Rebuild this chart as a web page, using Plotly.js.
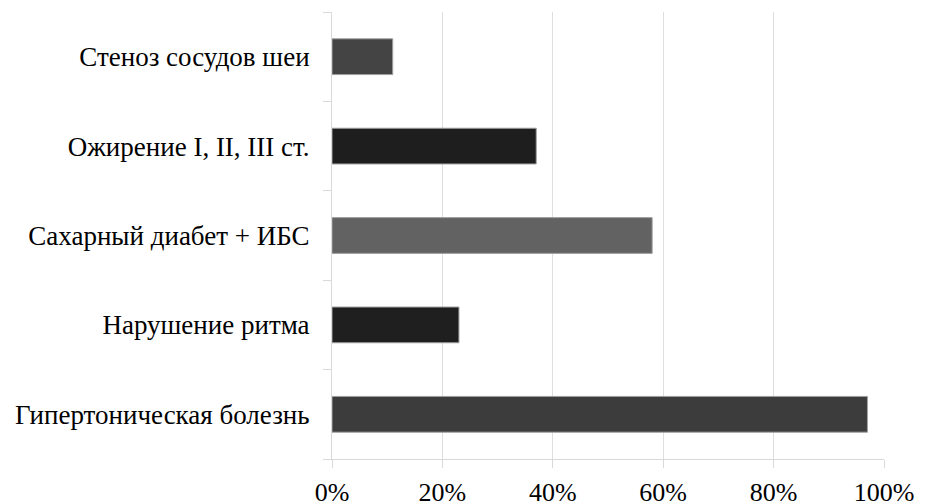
<!DOCTYPE html>
<html>
<head>
<meta charset="utf-8">
<script src="https://cdn.plot.ly/plotly-3.0.1.min.js"></script>
<style>
  html, body { margin: 0; padding: 0; background: #fff; }
  #chart { width: 927px; height: 502px; }
</style>
</head>
<body>
<div id="chart"></div>
<script>
// Comorbidities, share of patients (bottom to top on the category axis)
const categories = [
  "Гипертоническая болезнь",
  "Нарушение ритма",
  "Сахарный диабет + ИБС",
  "Ожирение I, II, III ст.",
  "Стеноз сосудов шеи"
];
const shares = [0.97, 0.23, 0.58, 0.37, 0.11];
const xTickValues = [0, 0.2, 0.4, 0.6, 0.8, 1.0];
const xTickLabels = ["0%", "20%", "40%", "60%", "80%", "100%"];

// one grey tone per bar
const barColors = ["#3c3c3c", "#1f1f1f", "#626262", "#1e1e1e", "#444444"];

const trace = {
  type: "bar",
  orientation: "h",
  y: categories,
  x: shares,
  width: 0.4,
  marker: {
    color: barColors,
    line: { color: "#a0a0a0", width: 1 }
  },
  hoverinfo: "skip"
};

const fontFamily = "Liberation Serif, Times New Roman, serif";

const layout = {
  width: 927,
  height: 502,
  margin: { l: 332, r: 43, t: 12, b: 43, pad: 0 },
  paper_bgcolor: "#ffffff",
  plot_bgcolor: "#ffffff",
  showlegend: false,
  font: { family: fontFamily, color: "#000000", size: 26 },
  xaxis: {
    range: [0, 1.0],
    tickvals: xTickValues,
    ticktext: xTickLabels,
    showgrid: true,
    gridcolor: "#dedede",
    gridwidth: 1,
    zeroline: false,
    showline: true,
    linecolor: "#d9d9d9",
    linewidth: 1,
    ticks: "outside",
    ticklen: 8,
    tickcolor: "#d9d9d9",
    ticklabelstandoff: 2,
    tickfont: { family: fontFamily, size: 26, color: "#000000" },
    fixedrange: true
  },
  yaxis: {
    type: "category",
    categoryorder: "array",
    categoryarray: categories,
    showgrid: false,
    zeroline: false,
    showline: true,
    linecolor: "#d9d9d9",
    linewidth: 1,
    ticks: "outside",
    tickson: "boundaries",
    ticklen: 8,
    tickcolor: "#d9d9d9",
    ticklabelstandoff: 16,
    tickfont: { family: fontFamily, size: 27, color: "#000000" },
    fixedrange: true
  }
};

Plotly.newPlot("chart", [trace], layout, { displayModeBar: false, staticPlot: true });
</script>
</body>
</html>
